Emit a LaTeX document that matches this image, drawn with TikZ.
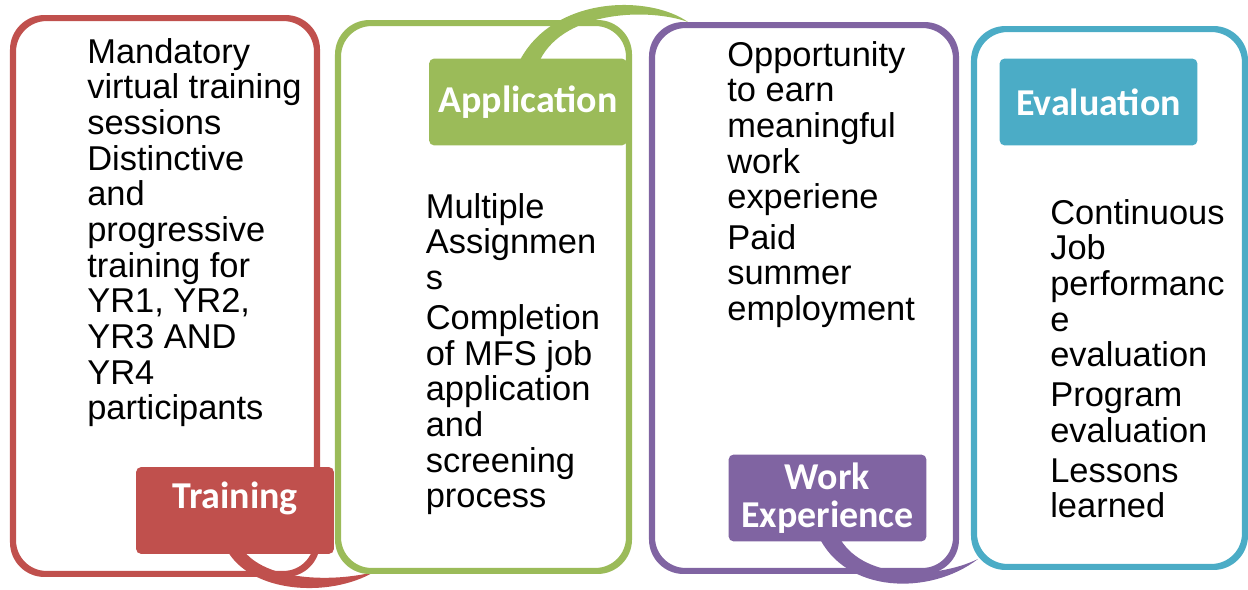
\documentclass[tikz,border=0pt]{standalone}
\usepackage{fontspec}
\setmainfont{Liberation Sans}
\newfontfamily\labelfont{Carlito}
\usepackage{tikz}
\usetikzlibrary{positioning, calc}

\definecolor{trainc}{HTML}{C0504D}
\definecolor{applyc}{HTML}{9BBB59}
\definecolor{workc}{HTML}{8064A2}
\definecolor{evalc}{HTML}{4BACC6}

\tikzset{
    stagebox/.style={draw=#1, line width=2.3pt, rounded corners=0.65cm},
    stagelabel/.style={fill=#1, rounded corners=3pt, minimum width=3.96cm, minimum height=1.74cm,
        inner sep=0pt, align=center, text=white, font=\labelfont\bfseries\fontsize{21.6}{21.6}\selectfont},
    stagetext/.style={align=left, inner sep=0pt, font=\fontsize{19.6}{20.3}\selectfont,
        execute at begin node=\strut}
}

\begin{document}
\begin{tikzpicture}[x=0.02cm, y=-0.02cm]
    \useasboundingbox (0,0) rectangle (1248,590);
    % the four stages
    \node (Train) [stagebox=trainc, minimum width=6.04cm, minimum height=11.08cm] at (165,296) {};
    \node (Apply) [stagebox=applyc, minimum width=5.78cm, minimum height=10.92cm] at (483.5,297) {};
    \node (Work) [stagebox=workc, minimum width=6.04cm, minimum height=10.88cm] at (804,298) {};
    \node (Eval) [stagebox=evalc, minimum width=5.38cm, minimum height=10.72cm] at (1109.5,298) {};
    % title tabs
    \coordinate (TrainL) at (235,510.5);
    \coordinate (ApplyL) at (528,102);
    \coordinate (WorkL) at (827.5,498);
    % links between the stages
    \fill [trainc] ($(TrainL)+(-9,38)$) .. controls (250,594) and (330,598) .. ($(Apply.south west)+(37,0)$)
        .. controls (335,582) and (265,582) .. ($(TrainL)+(7,38)$) -- cycle;
    \fill [applyc] ($(ApplyL)+(-8,-42)$) .. controls (555,-5) and (650,-5) .. ($(Work.north west)+(37,-2)$)
        .. controls (650,8) and (565,10) .. ($(ApplyL)+(12,-42)$) -- cycle;
    \fill [workc] ($(WorkL)+(-9.5,37)$) .. controls (845,594) and (930,596) .. ($(Eval.south west)+(5,-9)$)
        .. controls (935,580) and (860,580) .. ($(WorkL)+(10.5,37)$) -- cycle;
    % redraw the outlines over the links
    \draw [trainc, line width=2.3pt, rounded corners=0.65cm] (Train.south west) rectangle (Train.north east);
    \draw [applyc, line width=2.3pt, rounded corners=0.65cm] (Apply.south west) rectangle (Apply.north east);
    \draw [workc, line width=2.3pt, rounded corners=0.65cm] (Work.south west) rectangle (Work.north east);
    \draw [evalc, line width=2.3pt, rounded corners=0.65cm] (Eval.south west) rectangle (Eval.north east);
    \node (TrainTab) [stagelabel=trainc, text depth=0.6cm] at (TrainL) {Training};
    \node (ApplyTab) [stagelabel=applyc] at (ApplyL) {Application};
    \node (WorkTab) [stagelabel=workc] at (WorkL) {Work\\Experience};
    \node (EvalTab) [stagelabel=evalc] at (1098.5,102) {Evaluation};
    % bullet texts
    \node (TrainText) [stagetext, below right=0.42cm and 1.5cm of Train.north west]
        {Mandatory\\virtual training\\sessions\\Distinctive\\and\\progressive\\training for\\YR1, YR2,\\YR3 AND\\YR4\\participants};
    \node (ApplyText) [stagetext, below right=3.42cm and 1.77cm of Apply.north west]
        {Multiple\\Assignmen\\s\\[2.3pt]Completion\\of MFS job\\application\\and\\screening\\process};
    \node (WorkText) [stagetext, below right=0.34cm and 1.52cm of Work.north west]
        {Opportunity\\to earn\\meaningful\\work\\experiene\\[2.6pt]Paid\\summer\\employment};
    \node (EvalText) [stagetext, below right=3.42cm and 1.54cm of Eval.north west]
        {Continuous\\Job\\performanc\\e\\evaluation\\[2.3pt]Program\\evaluation\\[2.3pt]Lessons\\learned};
\end{tikzpicture}
\end{document}
